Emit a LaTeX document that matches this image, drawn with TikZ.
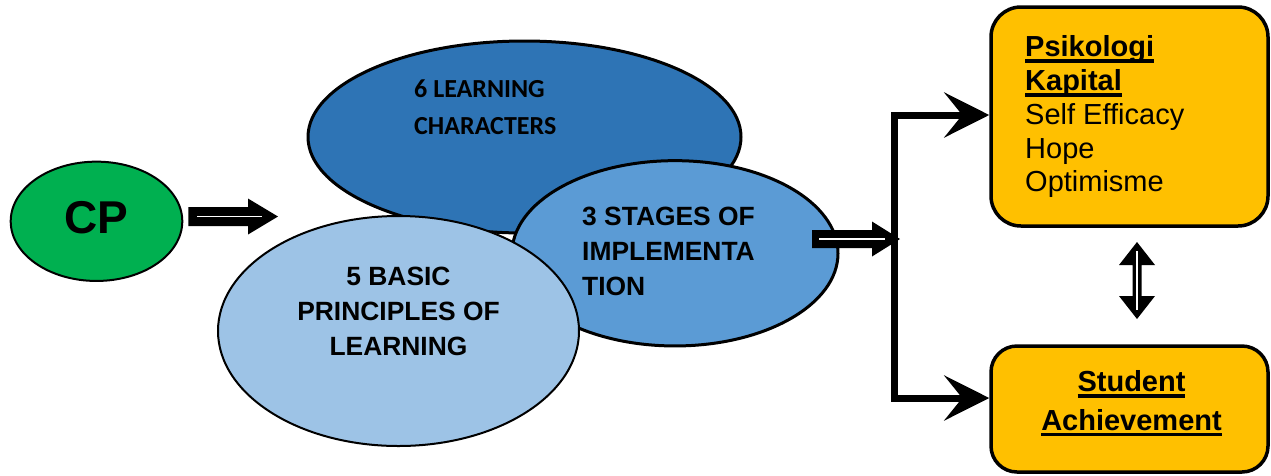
\documentclass[tikz,border=0pt]{standalone}
\usepackage{fontspec}
\setmainfont{Liberation Sans}
\newfontfamily\calfont{Carlito}
\usetikzlibrary{shapes.geometric,arrows.meta,calc}
\definecolor{cpgreen}{HTML}{00B050}
\definecolor{darkblue}{HTML}{2E74B5}
\definecolor{midblue}{HTML}{5B9BD5}
\definecolor{lightblue}{HTML}{9DC3E6}
\definecolor{gold}{HTML}{FFC000}
\newsavebox\ulbox
\newcommand\ulx[1]{\sbox\ulbox{#1}\rlap{\rule[-6pt]{\wd\ulbox}{3.3pt}}\usebox\ulbox}
\begin{document}
\begin{tikzpicture}[x=1pt,y=-1pt,
  ell/.style={ellipse, draw=black, inner sep=0pt},
  lbl/.style={inner sep=0pt, anchor=base west},
  clbl/.style={inner sep=0pt, anchor=base},
  boxst/.style={draw=black, line width=3.5pt, fill=gold, inner sep=0pt},
  stagefont/.style={font=\bfseries\fontsize{26.4}{30}\selectfont},
  calfontst/.style={font=\calfont\bfseries\fontsize{26}{29}\selectfont},
  boxfont/.style={font=\fontsize{29}{33}\selectfont},
  boxbold/.style={font=\bfseries\fontsize{29}{33}\selectfont},
  bracketarrow/.style={line width=7pt, line join=miter,
    {Stealth[length=45pt,width=45pt,inset=18pt]}-{Stealth[length=45pt,width=45pt,inset=18pt]}}
]
\useasboundingbox (0,0) rectangle (1271,475);
\fill[white] (0,0) rectangle (1271,475);

% CP
\node[ell, line width=2pt, fill=cpgreen, minimum width=171.6pt, minimum height=119.3pt] (cp) at (96.5,221.3) {};
\node[clbl, font=\bfseries\fontsize{46}{50}\selectfont] (cpt) at (96.7,233) {CP};

% ellipses
\node[ell, line width=3pt, fill=darkblue, minimum width=433pt, minimum height=192pt] (lc) at (524.5,137) {};
\node[ell, line width=3pt, fill=midblue, minimum width=326pt, minimum height=185.3pt] (st) at (675,253.3) {};
\node[ell, line width=2pt, fill=lightblue, minimum width=361pt, minimum height=230pt] (bp) at (398.5,331) {};

\node[lbl, calfontst] (lc1) at (414,97.3) {6 LEARNING};
\node[lbl, calfontst] (lc2) at (414,134.3) {CHARACTERS};

\node[lbl, stagefont] (st1) at (582,225) {3 STAGES OF};
\node[lbl, stagefont] (st2) at (582,260) {IMPLEMENTA};
\node[lbl, stagefont] (st3) at (582,295) {TION};

\node[clbl, stagefont] (bp1) at (398.5,285) {5 BASIC};
\node[clbl, stagefont] (bp2) at (398.5,320) {PRINCIPLES OF};
\node[clbl, stagefont] (bp3) at (398.5,355) {LEARNING};

% boxes
\node[boxst, rounded corners=30pt, minimum width=277pt, minimum height=219pt] (box1) at (1129.5,116.5) {};
\node[boxst, rounded corners=26pt, minimum width=277pt, minimum height=126pt] (box2) at (1129.5,409) {};

\node[lbl, boxbold] (pk1) at (1025,56.7) {\ulx{Psikologi}};
\node[lbl, boxbold] (pk2) at (1025,90.5) {\ulx{Kapital}};
\node[lbl, boxfont] (pk3) at (1025,124.2) {Self Efficacy};
\node[lbl, boxfont] (pk4) at (1025,158) {Hope};
\node[lbl, boxfont] (pk5) at (1025,191.7) {Optimisme};

\node[clbl, boxbold] (sa1) at (1131.5,391.7) {\ulx{Student}};
\node[clbl, boxbold] (sa2) at (1131.5,430) {\ulx{Achievement}};

% block arrow CP -> ellipses
\coordinate (a1s) at ($(cp.east)+(5,-4.8)$);
\coordinate (a1e) at (278,216.5);
\fill ($(a1s)+(0,-9.5)$) -- ($(a1e)+(-30,-9.5)$) -- ($(a1e)+(-30,-18)$) -- (a1e)
  -- ($(a1e)+(-30,18)$) -- ($(a1e)+(-30,9.5)$) -- ($(a1s)+(0,9.5)$) -- cycle;
\draw[white, line width=1.8pt] ($(a1s)+(9,0)$) -- ($(a1e)+(-16,0)$);

% block arrow stages -> bracket
\coordinate (a2s) at (812,239);
\coordinate (a2e) at (900,239);
\fill ($(a2s)+(0,-9)$) -- ($(a2e)+(-28,-9)$) -- ($(a2e)+(-28,-17.5)$) -- (a2e)
  -- ($(a2e)+(-28,17.5)$) -- ($(a2e)+(-28,9)$) -- ($(a2s)+(0,9)$) -- cycle;
\draw[white, line width=1.8pt] ($(a2s)+(7,0)$) -- ($(a2e)+(-15,0)$);

% bracket
\coordinate (jt) at (894,115);
\coordinate (jb) at (894,398);
\draw[bracketarrow] (box1.west |- jt) -- (jt) -- (jb) -- (box2.west |- jb);

% vertical double arrow
\coordinate (vt) at (1137,242);
\coordinate (vb) at (1137,319);
\fill (vt) -- ($(vt)+(18,23)$) -- ($(vt)+(4.5,23)$) -- ($(vb)+(4.5,-23)$) -- ($(vb)+(18,-23)$) -- (vb)
  -- ($(vb)+(-18,-23)$) -- ($(vb)+(-4.5,-23)$) -- ($(vt)+(-4.5,23)$) -- ($(vt)+(-18,23)$) -- cycle;
\draw[white, line width=1.4pt] ($(vt)+(0,9)$) -- ($(vb)+(0,-9)$);
\end{tikzpicture}
\end{document}
